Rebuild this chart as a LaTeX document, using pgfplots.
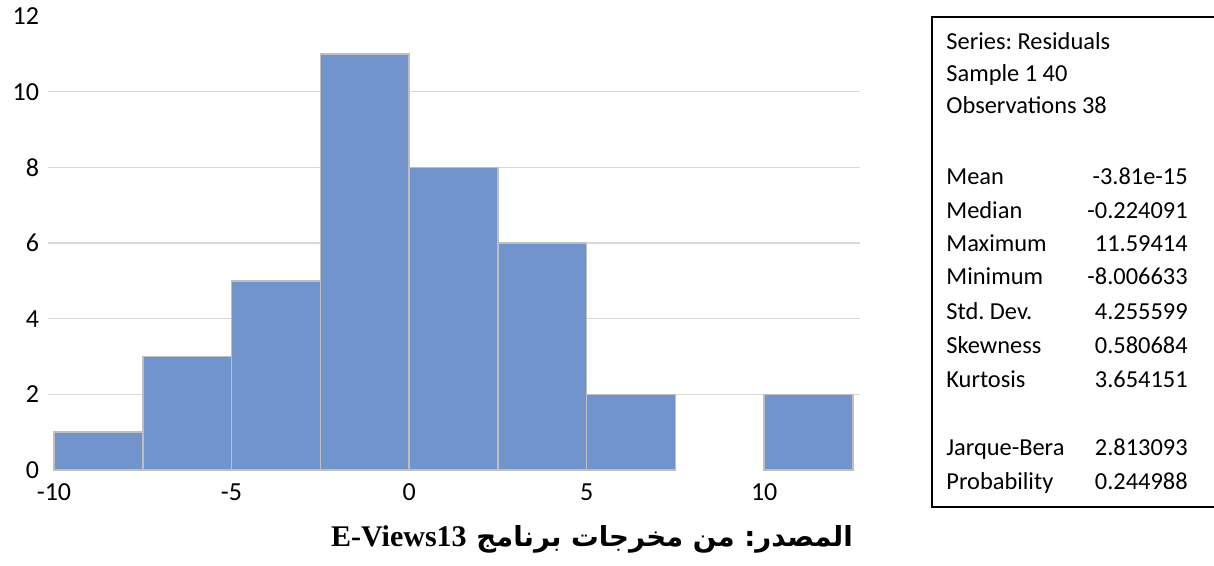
\documentclass[border=0pt]{standalone}
\usepackage{fontspec}
\usepackage{pgfplots}
\pgfplotsset{compat=1.18}
\setmainfont{Carlito}
\newfontfamily\arabicfont[Script=Arabic]{DejaVu Sans}
\newfontfamily\timesfont{Liberation Serif}
\TeXXeTstate=1
\frenchspacing
\definecolor{barblue}{HTML}{7294CC}
\definecolor{baredge}{HTML}{BFBFBF}
\definecolor{gridgray}{HTML}{D9D9D9}
\begin{document}
\begin{tikzpicture}
\useasboundingbox (0pt,0pt) rectangle (607pt,-283pt);
\begin{axis}[
  at={(24pt,-235pt)}, anchor=south west,
  scale only axis, width=406pt, height=227pt,
  xmin=-10.169, xmax=12.697, ymin=0, ymax=12,
  axis line style={draw=none},
  major tick length=0pt,
  xtick={-10,-5,0,5,10},
  ytick={2,4,6,8,10},
  extra y ticks={0,12},
  extra y tick style={grid=none},
  ymajorgrids,
  grid style={gridgray, line width=0.7pt},
  /pgf/number format/assume math mode=true,
  ticklabel style={font=\fontsize{13}{15}\selectfont},
  xticklabel style={yshift=-3.5pt},
  yticklabel style={xshift=-1pt},
]
\addplot[ybar interval, fill=barblue, draw=baredge, line width=0.8pt]
  coordinates {(-10,1) (-7.5,3) (-5,5) (-2.5,11) (0,8) (2.5,6) (5,2) (7.5,2)};
\addplot[ybar interval, fill=barblue, draw=baredge, line width=0.8pt]
  coordinates {(10,2) (12.5,2)};
\end{axis}
\begin{scope}[x=0.5pt,y=-0.5pt]
% statistics box
\draw[line width=0.8pt] (1230,17) -- (932,17) -- (932,507) -- (1230,507);
\begin{scope}[every node/.style={font=\fontsize{12.2}{15}\selectfont, inner sep=0pt}]
\node[anchor=base west] at (946,50) {Series: Residuals};
\node[anchor=base west] at (946,82) {Sample 1 40};
\node[anchor=base west] at (946,114) {Observations 38};
\node[anchor=base west] at (946,185) {Mean};
\node[anchor=base west] at (946,219) {Median};
\node[anchor=base west] at (946,252) {Maximum};
\node[anchor=base west] at (946,285) {Minimum};
\node[anchor=base west] at (946,320) {Std. Dev.};
\node[anchor=base west] at (946,353) {Skewness};
\node[anchor=base west] at (946,387) {Kurtosis};
\node[anchor=base west] at (946,455) {Jarque-Bera};
\node[anchor=base west] at (946,489) {Probability};
\node[anchor=base east] at (1188,185) {-3.81e-15};
\node[anchor=base east] at (1188,219) {-0.224091};
\node[anchor=base east] at (1188,252) {11.59414};
\node[anchor=base east] at (1188,285) {-8.006633};
\node[anchor=base east] at (1188,320) {4.255599};
\node[anchor=base east] at (1188,353) {0.580684};
\node[anchor=base east] at (1188,387) {3.654151};
\node[anchor=base east] at (1188,455) {2.813093};
\node[anchor=base east] at (1188,489) {0.244988};
\end{scope}
% caption
\node[anchor=base, inner sep=0pt] at (592,546)
  {\fontsize{13.8}{17}\selectfont\bfseries\arabicfont\beginR المصدر: من مخرجات برنامج \beginL{\timesfont\fontsize{15}{17}\selectfont E-Views13}\endL\endR};
\end{scope}
\end{tikzpicture}
\end{document}
